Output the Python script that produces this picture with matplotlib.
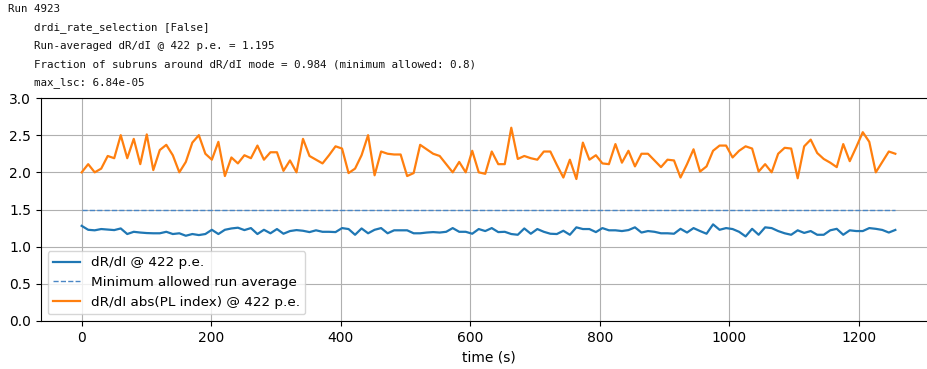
import numpy as np
import matplotlib
matplotlib.use("Agg")
import matplotlib.pyplot as plt

# Subrun dR/dI values at 422 p.e.
drdi = [
    1.28, 1.227, 1.22, 1.237, 1.23, 1.223, 1.245, 1.17, 1.20, 1.19, 1.183, 1.18, 1.18, 1.20, 1.17, 1.18, 1.147, 1.17, 1.156, 1.17, 1.227,
    1.17, 1.227, 1.245, 1.255, 1.223, 1.25, 1.17, 1.227, 1.18, 1.237, 1.174, 1.21, 1.223, 1.214, 1.196, 1.22, 1.20, 1.20, 1.196, 1.25, 1.237,
    1.16, 1.245, 1.18, 1.227, 1.25, 1.18, 1.22, 1.22, 1.22, 1.18, 1.18, 1.19, 1.196, 1.19, 1.20, 1.25, 1.20, 1.20, 1.174, 1.237, 1.21,
    1.25, 1.196, 1.20, 1.17, 1.16, 1.245, 1.174, 1.237, 1.20, 1.174, 1.17, 1.214, 1.16, 1.26, 1.237, 1.237, 1.196, 1.25, 1.22, 1.22, 1.21,
    1.223, 1.26, 1.19, 1.21, 1.20, 1.18, 1.18, 1.174, 1.24, 1.19, 1.25, 1.21, 1.174, 1.30, 1.227, 1.25, 1.237, 1.20, 1.138, 1.24, 1.16,
    1.26, 1.25, 1.21, 1.18, 1.16, 1.22, 1.185, 1.21, 1.16, 1.16, 1.22, 1.24, 1.16, 1.22, 1.21, 1.21, 1.25, 1.24, 1.225, 1.19, 1.225,
]

# Subrun power-law index magnitudes at 422 p.e.
pl_index = [
    2.00, 2.11, 2.00, 2.05, 2.22, 2.19, 2.50, 2.19, 2.45, 2.11, 2.51, 2.03, 2.30, 2.37, 2.23, 2.00, 2.14, 2.40, 2.50, 2.25, 2.17,
    2.41, 1.95, 2.20, 2.12, 2.23, 2.19, 2.36, 2.17, 2.27, 2.27, 2.02, 2.16, 2.00, 2.45, 2.22, 2.17, 2.12, 2.23, 2.35, 2.32, 1.99,
    2.05, 2.23, 2.50, 1.96, 2.28, 2.25, 2.24, 2.24, 1.95, 1.99, 2.37, 2.31, 2.25, 2.22, 2.11, 2.00, 2.14, 2.00, 2.29, 2.00, 1.98,
    2.28, 2.11, 2.11, 2.60, 2.18, 2.22, 2.19, 2.17, 2.28, 2.28, 2.10, 1.93, 2.17, 1.91, 2.40, 2.17, 2.23, 2.12, 2.11, 2.38, 2.13,
    2.29, 2.08, 2.25, 2.25, 2.16, 2.07, 2.17, 2.16, 1.93, 2.11, 2.31, 2.01, 2.08, 2.29, 2.36, 2.36, 2.20, 2.29, 2.35, 2.32, 2.01,
    2.11, 2.00, 2.25, 2.33, 2.32, 1.92, 2.35, 2.44, 2.26, 2.18, 2.13, 2.07, 2.38, 2.15, 2.34, 2.54, 2.41, 2.00, 2.14, 2.28, 2.25,
]

subrun_length = 10.05  # seconds per subrun
time = np.arange(len(drdi)) * subrun_length
min_run_average = 1.5

header_lines = [
    "Run 4923",
    "    drdi_rate_selection [False]",
    "    Run-averaged dR/dI @ 422 p.e. = 1.195",
    "    Fraction of subruns around dR/dI mode = 0.984 (minimum allowed: 0.8)",
    "    max_lsc: 6.84e-05",
]

W, H = 927, 369
fig = plt.figure(figsize=(W / 100, H / 100), dpi=100)

for i, line in enumerate(header_lines):
    fig.text(8 / W, 1 - (9 + 18.5 * i) / H, line, family="DejaVu Sans Mono",
             fontsize=7.8, va="center", ha="left", color="#111111")

ax = fig.add_axes([41 / W, 48 / H, 895 / W, 223 / H])
ax.plot(time, drdi, color="#1f77b4", lw=1.6, label="dR/dI @ 422 p.e.")
ax.plot([time[0], time[-1]], [min_run_average, min_run_average], color="#4a86c5",
        lw=1.0, ls="--", label="Minimum allowed run average")
ax.plot(time, pl_index, color="#ff7f0e", lw=1.6, label="dR/dI abs(PL index) @ 422 p.e.")

ax.set_ylim(0, 3.0)
ax.set_xticks([0, 200, 400, 600, 800, 1000, 1200])
ax.set_yticks(np.arange(0, 3.01, 0.5))
ax.grid(True, color="#b0b0b0", lw=0.8)
ax.set_xlabel("time (s)")
ax.legend(loc="lower left", fontsize=9.7)

fig.savefig("out.png", dpi=100)
